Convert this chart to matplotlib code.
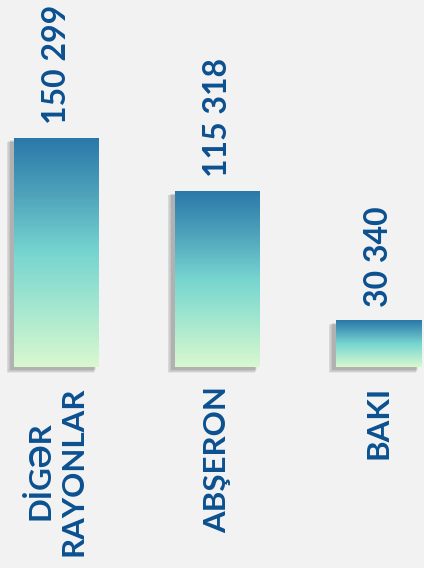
import numpy as np
import matplotlib
matplotlib.use("Agg")
import matplotlib.pyplot as plt
from matplotlib.colors import LinearSegmentedColormap
from matplotlib.patches import Rectangle
from matplotlib.transforms import ScaledTranslation

categories = ["DİGƏR\nRAYONLAR", "ABŞERON", "BAKI"]
values = [150299, 115318, 30340]

bg = "#f2f2f2"
txt = "#0b5090"
fonts = ["Lato", "DejaVu Sans"]
cmap = LinearSegmentedColormap.from_list(
    "bar", ["#d9f8d0", "#a6e8cf", "#76d5d0", "#4fa4bb", "#2a78aa"])

fig = plt.figure(figsize=(4.24, 5.68), dpi=100, facecolor=bg)
# axes: baseline 201px from bottom, up to the top of the figure
ax = fig.add_axes([0, 201 / 568, 1, 367 / 568])
ax.set_facecolor(bg)
ax.axis("off")

ymax = max(values) * 367 / 229
width = 85 / 161
x = np.arange(len(values))

grad = np.linspace(0, 1, 256).reshape(-1, 1)
for xi, v in zip(x, values):
    x0, x1 = xi - width / 2, xi + width / 2
    # soft shadow, offset left and down
    off = ScaledTranslation(-3 / 100, -2 / 100, fig.dpi_scale_trans)
    for s in range(1, 7):
        pad_x = s * 0.0045
        pad_y = s * ymax * 0.0018
        r = Rectangle((x0 - pad_x, -pad_y), width + pad_x * 0.5, v + pad_y * 0.5,
                      facecolor="#3a3a3a", alpha=0.065, edgecolor="none",
                      transform=ax.transData + off, clip_on=False, zorder=1)
        ax.add_patch(r)
    ax.imshow(grad, extent=[x0, x1, 0, v], aspect="auto", cmap=cmap,
              origin="lower", zorder=2, interpolation="bilinear")
    ax.annotate(f"{v:,}".replace(",", " "), xy=(xi, v), xytext=(0, 10),
                textcoords="offset points", rotation=90, ha="center",
                va="bottom", fontsize=23, fontweight="bold", color=txt,
                family=fonts)
    ax.text(xi, -19 / 367, categories[xi], transform=ax.get_xaxis_transform(),
            rotation=90, ha="center", va="top", multialignment="center",
            fontsize=22.5, fontweight="bold", color=txt, family=fonts,
            linespacing=1.25, clip_on=False)

ax.set_xlim(-56.5 / 161, (424 - 56.5) / 161)
ax.set_ylim(0, ymax)

fig.savefig("out.png", dpi=100, facecolor=bg)
